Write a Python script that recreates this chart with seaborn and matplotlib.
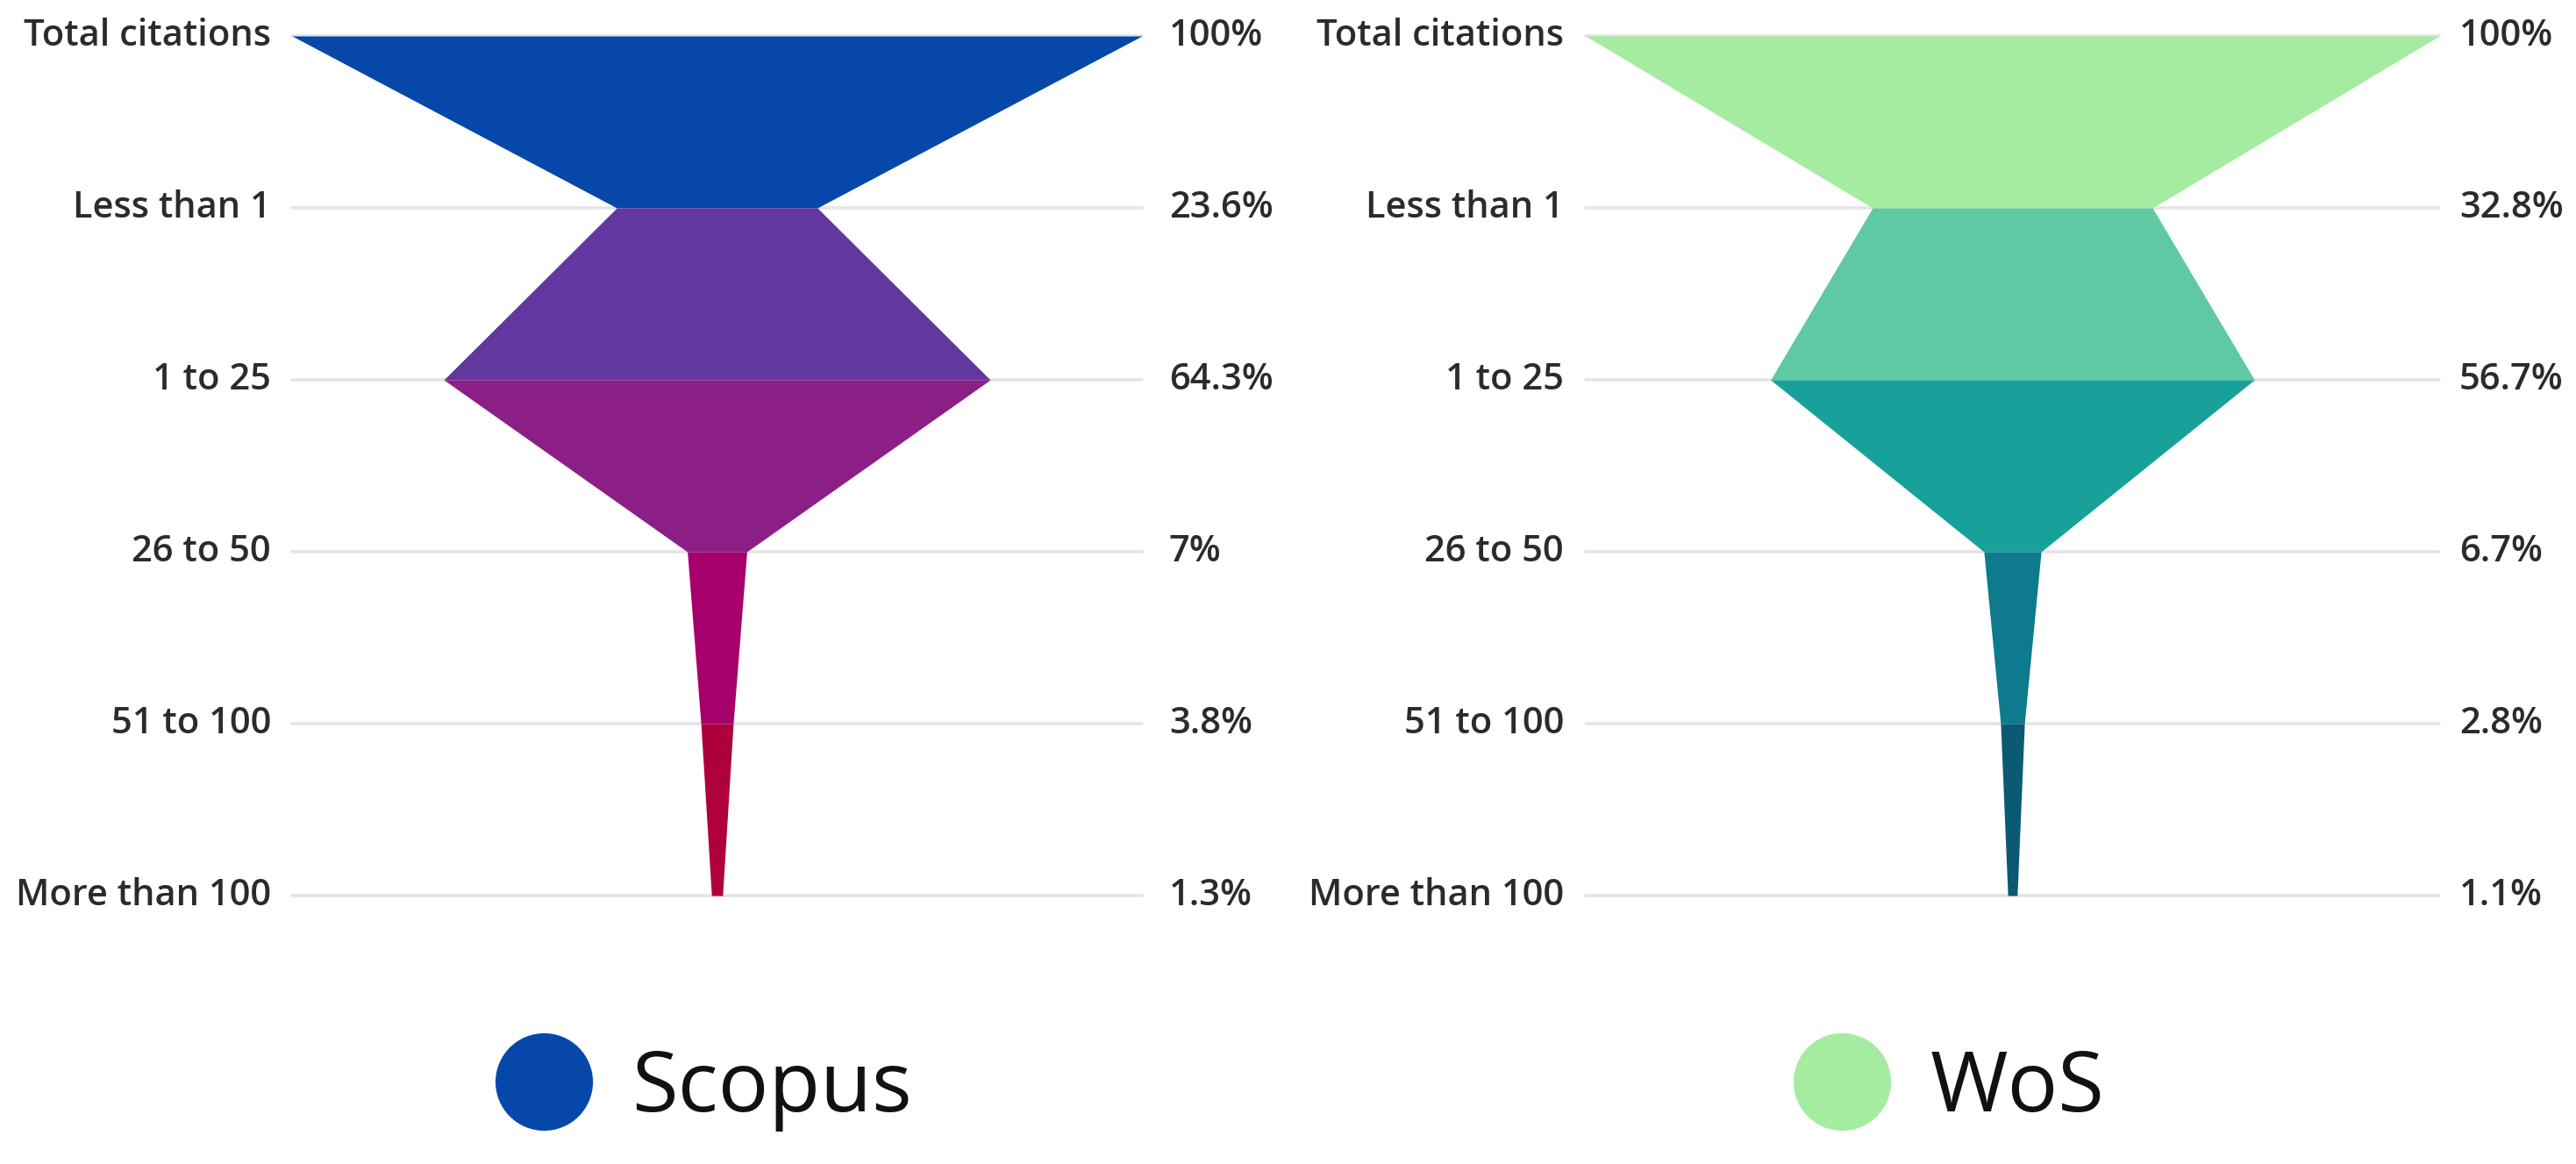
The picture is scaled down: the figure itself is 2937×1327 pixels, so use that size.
import matplotlib
matplotlib.use("Agg")
import matplotlib.pyplot as plt
from matplotlib.lines import Line2D
import seaborn as sns
import numpy as np

# ---- data ----
stages = ["Total citations", "Less than 1", "1 to 25", "26 to 50", "51 to 100", "More than 100"]
scopus_values = [100, 23.6, 64.3, 7, 3.8, 1.3]
wos_values = [100, 32.8, 56.7, 6.7, 2.8, 1.1]
scopus_labels = ["100%", "23.6%", "64.3%", "7%", "3.8%", "1.3%"]
wos_labels = ["100%", "32.8%", "56.7%", "6.7%", "2.8%", "1.1%"]
scopus_colors = ["#0648AA", "#6237A0", "#8C1F86", "#A6006C", "#AE003B"]
wos_colors = ["#A5EBA0", "#5FC9A4", "#18A19A", "#0E7A8D", "#0B5A73"]
series_names = ["Scopus", "WoS"]
legend_colors = ["#0648AA", "#A5EBA0"]

sns.set_theme(style="white")
plt.rcParams["font.family"] = ["Open Sans", "DejaVu Sans"]

W, H = 2937, 1327
fig = plt.figure(figsize=(W / 100, H / 100), dpi=100)
fig.patch.set_facecolor("white")

def px_axes(x0, x1, y0, y1):
    return fig.add_axes([x0 / W, 1 - y1 / H, (x1 - x0) / W, (y1 - y0) / H])

ax_l = px_axes(333, 1302, 41, 1021)
ax_r = px_axes(1808, 2781, 41, 1021)

def funnel(ax, values, labels, colors, loff, roff):
    ax.set_xlim(-50, 50)
    ax.set_ylim(len(stages) - 1, 0)
    ax.axis("off")
    y = np.arange(len(stages))
    for yi in y:
        ax.axhline(yi, color="#E4E4E4", lw=2.6, zorder=0, clip_on=False)
    for i in range(len(values) - 1):
        ys = np.array([y[i], y[i + 1]])
        half = np.array([values[i], values[i + 1]]) / 2
        ax.fill_betweenx(ys, -half, half, color=colors[i], lw=0, zorder=2)
    for yi, st, lab in zip(y, stages, labels):
        ax.annotate(st, xy=(-50, yi), xytext=(-loff * 0.72, 0), textcoords="offset points",
                    ha="right", va="center", fontsize=30, fontweight="semibold",
                    color="#2B2B2B", annotation_clip=False)
        ax.annotate(lab, xy=(50, yi), xytext=(roff * 0.72, 0), textcoords="offset points",
                    ha="left", va="center", fontsize=30, fontweight="semibold",
                    color="#2B2B2B", annotation_clip=False)

funnel(ax_l, scopus_values, scopus_labels, scopus_colors, 24, 31)
funnel(ax_r, wos_values, wos_labels, wos_colors, 25, 23)

for ax, name, col, cx in [(ax_l, series_names[0], legend_colors[0], 806),
                          (ax_r, series_names[1], legend_colors[1], 2226)]:
    h = Line2D([0], [0], marker="o", ls="", markersize=80, markerfacecolor=col,
               markeredgewidth=0)
    leg = ax.legend(handles=[h], labels=[name], loc="center",
                    bbox_to_anchor=(cx / W, 1 - 1242 / H), bbox_transform=fig.transFigure,
                    frameon=False, fontsize=69, handlelength=1.0, handletextpad=0.55,
                    borderpad=0, borderaxespad=0)
    for t in leg.get_texts():
        t.set_color("#111111")

fig.savefig("out.png", dpi=100, facecolor="white")
